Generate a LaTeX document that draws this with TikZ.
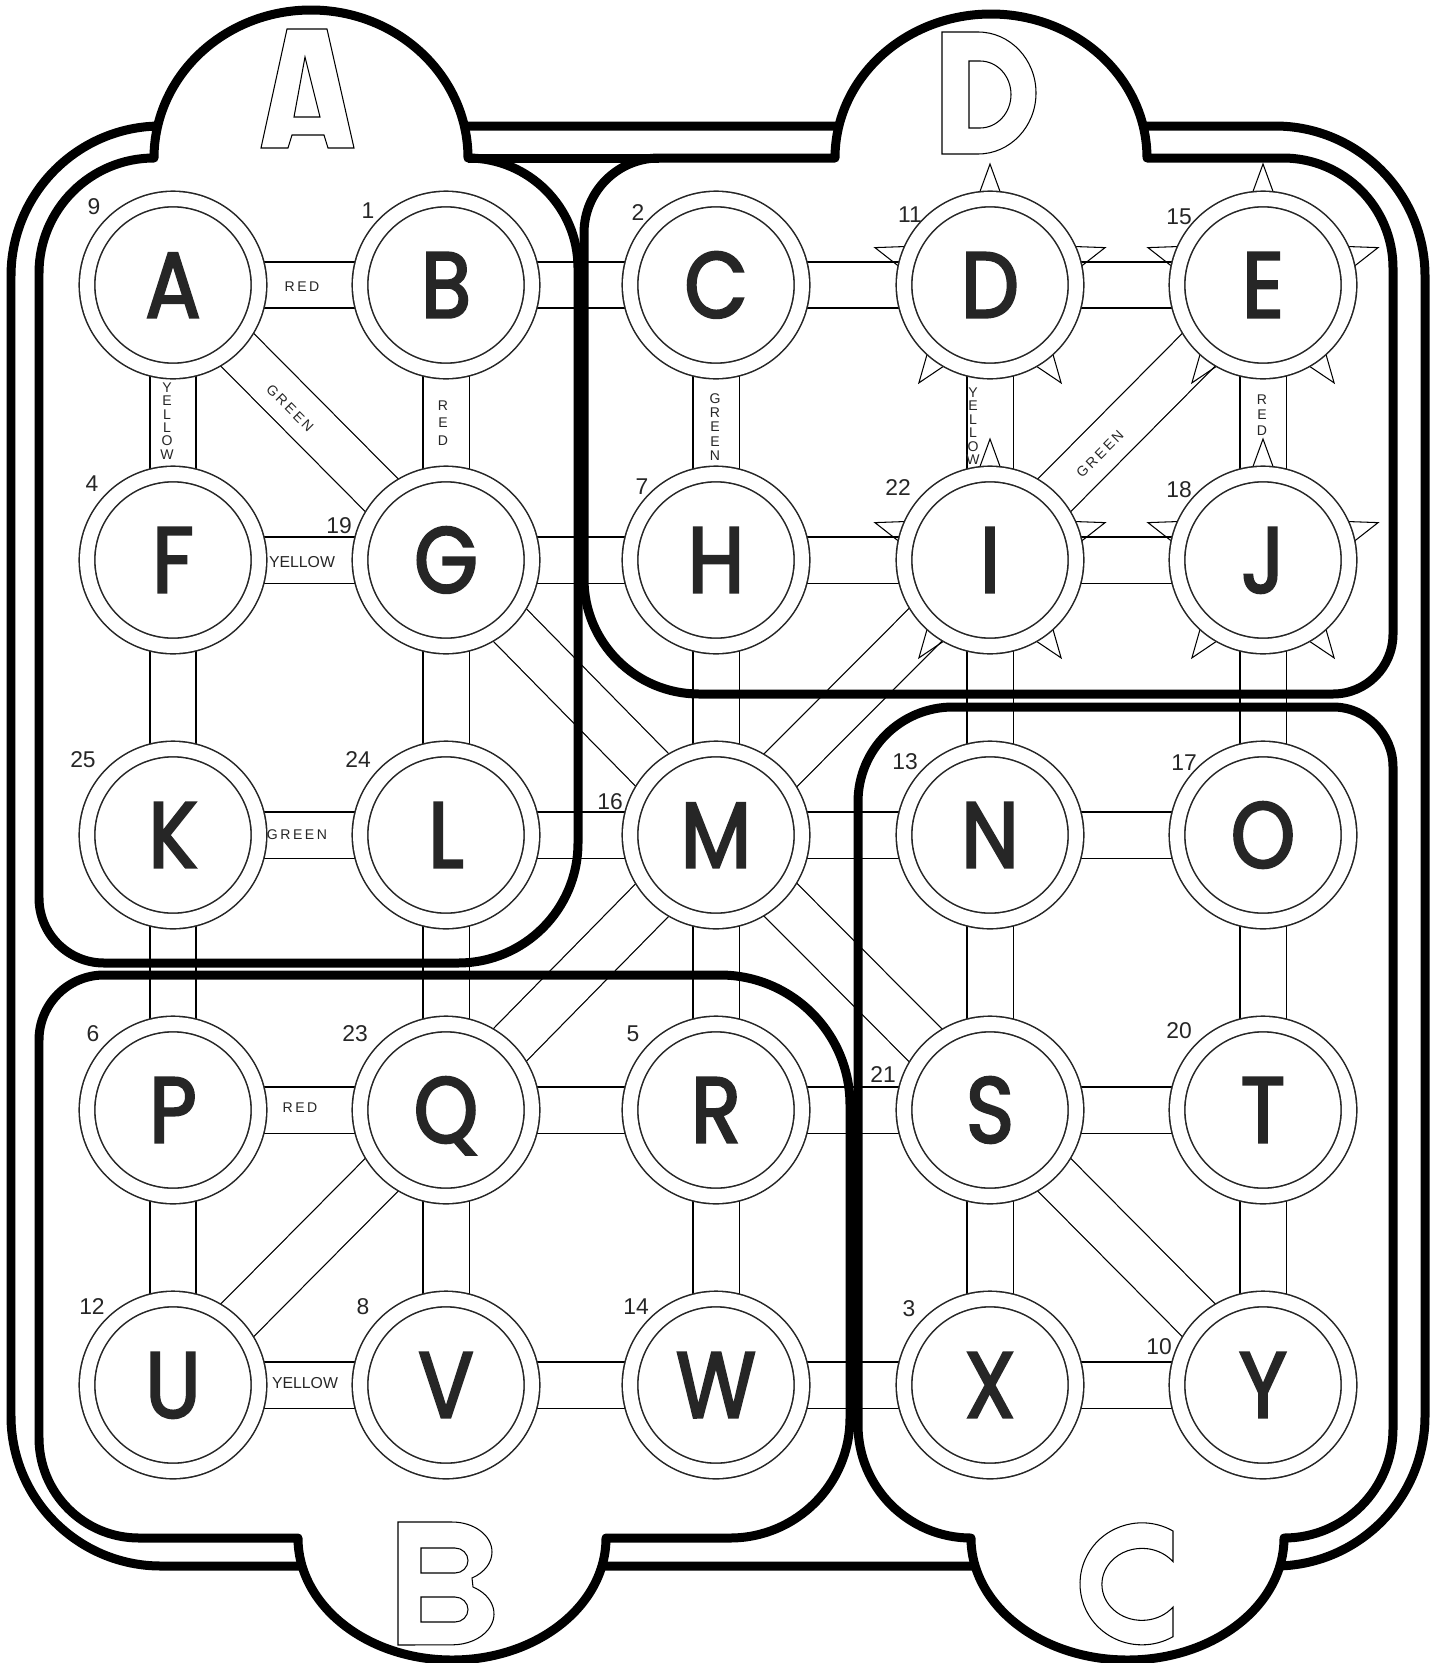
\documentclass[tikz,border=0pt]{standalone}
\usepackage{fontspec}
\setmainfont{Liberation Sans}
\newfontfamily\stnfont{Poppins}[FakeStretch=0.88,FakeBold=2.5]
\newfontfamily\tagfont{Liberation Sans}[LetterSpace=18]
\usetikzlibrary{shapes.geometric}
\pgfdeclarelayer{bg}
\pgfsetlayers{bg,main}
\tikzset{
  stn/.style={circle,draw,double,double distance=0.28cm,line width=0.9pt,fill=white,
    minimum size=3.44cm,inner sep=0pt,text height=37pt,text depth=0pt,
    font=\stnfont\fontsize{53}{53}\selectfont},
  sun/.style={star,star points=5,star point ratio=2.42,minimum size=4.84cm,inner sep=0pt,draw,line width=0.6pt},
  track/.style={double,double distance=0.9cm,line width=0.7pt},
  wall/.style={line width=0.18cm,line join=round},
  stencil/.style={line width=0.6pt},
  num/.style={font=\fontsize{13}{13}\selectfont,inner sep=0pt},
  tag/.style={font=\tagfont\fontsize{8}{8}\selectfont,inner sep=0pt},
  vtag/.style={font=\fontsize{8}{8}\selectfont,inner sep=0pt,align=center}
}

\begin{document}
\begin{tikzpicture}[x=0.02cm,y=-0.02cm,color=black!85]
  \useasboundingbox (0,0) rectangle (1442,1663);

  \node[stn] (A) at (173,285) {A};
  \node[stn] (B) at (446,285) {B};
  \node[stn] (C) at (716,285) {C};
  \node[stn] (D) at (990,285) {D};
  \node[stn] (E) at (1263,285) {E};
  \node[stn] (F) at (173,560) {F};
  \node[stn] (G) at (446,560) {G};
  \node[stn] (H) at (716,560) {H};
  \node[stn] (I) at (990,560) {I};
  \node[stn] (J) at (1263,560) {J};
  \node[stn] (K) at (173,835) {K};
  \node[stn] (L) at (446,835) {L};
  \node[stn] (M) at (716,835) {M};
  \node[stn] (N) at (990,835) {N};
  \node[stn] (O) at (1263,835) {O};
  \node[stn] (P) at (173,1110) {P};
  \node[stn] (Q) at (446,1110) {Q};
  \node[stn] (R) at (716,1110) {R};
  \node[stn] (S) at (990,1110) {S};
  \node[stn] (T) at (1263,1110) {T};
  \node[stn] (U) at (173,1385) {U};
  \node[stn] (V) at (446,1385) {V};
  \node[stn] (W) at (716,1385) {W};
  \node[stn] (X) at (990,1385) {X};
  \node[stn] (Y) at (1263,1385) {Y};

  \node[num] (n9) at (94,207) {9};
  \node[num] (n1) at (368,211) {1};
  \node[num] (n2) at (638,213) {2};
  \node[num] (n11) at (910,215) {11};
  \node[num] (n15) at (1179,217) {15};
  \node[num] (n4) at (92,484) {4};
  \node[num] (n19) at (339,526) {19};
  \node[num] (n7) at (642,487) {7};
  \node[num] (n22) at (898,488) {22};
  \node[num] (n18) at (1179,490) {18};
  \node[num] (n25) at (83,760) {25};
  \node[num] (n24) at (358,760) {24};
  \node[num] (n16) at (610,802) {16};
  \node[num] (n13) at (905,762) {13};
  \node[num] (n17) at (1184,763) {17};
  \node[num] (n6) at (93,1034) {6};
  \node[num] (n23) at (355,1034) {23};
  \node[num] (n5) at (633,1034) {5};
  \node[num] (n21) at (883,1075) {21};
  \node[num] (n20) at (1179,1031) {20};
  \node[num] (n12) at (92,1307) {12};
  \node[num] (n8) at (363,1307) {8};
  \node[num] (n14) at (636,1307) {14};
  \node[num] (n3) at (909,1309) {3};
  \node[num] (n10) at (1159,1347) {10};

  \begin{pgfonlayer}{bg}
    \draw[track] (A) -- (B) -- (C) -- (D) -- (E);
    \draw[track] (F) -- (G) -- (H) -- (I) -- (J);
    \draw[track] (K) -- (L) -- (M) -- (N) -- (O);
    \draw[track] (P) -- (Q) -- (R) -- (S) -- (T);
    \draw[track] (U) -- (V) -- (W) -- (X) -- (Y);
    \draw[track] (A) -- (F) -- (K) -- (P) -- (U);
    \draw[track] (B) -- (G) -- (L) -- (Q) -- (V);
    \draw[track] (C) -- (H) -- (M) -- (R) -- (W);
    \draw[track] (D) -- (I) -- (N) -- (S) -- (X);
    \draw[track] (E) -- (J) -- (O) -- (T) -- (Y);
    \draw[track] (A) -- (G) -- (M) -- (S) -- (Y);
    \draw[track] (E) -- (I) -- (M) -- (Q) -- (U);

    \node[tag] (tAB) at (302,287) {RED};
    \node[tag,rotate=-45] (tAG) at (290,408) {GREEN};
    \node[vtag,font=\fontsize{8}{7.6}\selectfont] (tAF) at (167,421) {Y\\E\\L\\L\\O\\W};
    \node[vtag,font=\fontsize{8}{9.9}\selectfont] (tBG) at (443,423) {R\\E\\D};
    \node[tag,font=\fontsize{9}{9}\selectfont] (tFG) at (302,562) {YELLOW};
    \node[vtag,font=\fontsize{8}{8.1}\selectfont] (tCH) at (715,427) {G\\R\\E\\E\\N};
    \node[vtag,font=\fontsize{8}{7.7}\selectfont] (tDI) at (973,426) {Y\\E\\L\\L\\O\\W};
    \node[vtag,font=\fontsize{8}{8.8}\selectfont] (tEJ) at (1262,415) {R\\E\\D};
    \node[tag,rotate=45] (tEI) at (1100,454) {GREEN};
    \node[tag] (tKL) at (297,835) {GREEN};
    \node[tag] (tPQ) at (300,1108) {RED};
    \node[tag,font=\fontsize{9}{9}\selectfont] (tUV) at (305,1383) {YELLOW};

    \node[sun] (sD) at (D) {};
    \node[sun] (sE) at (E) {};
    \node[sun] (sI) at (I) {};
    \node[sun] (sJ) at (J) {};

    \draw[wall,rounded corners=3cm] (11,126) rectangle (1425,1566);

    \fill[white] (154,158) arc[start angle=180,end angle=360,x radius=157,y radius=148] -- cycle;
    \fill[white] (835,158) arc[start angle=180,end angle=360,x radius=156,y radius=144] -- cycle;
    \fill[white] (606,1538) arc[start angle=0,end angle=180,x radius=154,y radius=122] -- cycle;
    \fill[white] (971,1538) arc[start angle=180,end angle=0,x radius=156.5,y radius=122] -- cycle;

    \draw[wall] (39,898) -- (39,273) arc[start angle=180,end angle=270,radius=115]
      arc[start angle=180,end angle=360,x radius=157,y radius=148]
      arc[start angle=270,end angle=360,radius=110] -- (578,843)
      arc[start angle=0,end angle=90,radius=120] -- (104,963)
      arc[start angle=90,end angle=180,radius=65] -- cycle;
    \draw[wall] (584,579) -- (584,233) arc[start angle=180,end angle=270,radius=75] -- (835,158)
      arc[start angle=180,end angle=360,x radius=156,y radius=144] -- (1283,158)
      arc[start angle=270,end angle=360,radius=110] -- (1393,634)
      arc[start angle=0,end angle=90,radius=60] -- (699,694)
      arc[start angle=90,end angle=180,radius=115] -- cycle;
    \draw[wall] (468,158) -- (659,158);
    \draw[wall] (858,1425) arc[start angle=180,end angle=90,radius=113]
      arc[start angle=180,end angle=0,x radius=156.5,y radius=122]
      arc[start angle=90,end angle=0,radius=109] -- (1393,767)
      arc[start angle=0,end angle=-90,radius=60] -- (953,707)
      arc[start angle=270,end angle=180,radius=95] -- cycle;
    \draw[wall] (39,1438) -- (39,1040) arc[start angle=180,end angle=270,radius=65] -- (720,975)
      arc[start angle=270,end angle=360,radius=130] -- (850,1418)
      arc[start angle=0,end angle=90,radius=120] -- (606,1538)
      arc[start angle=0,end angle=180,x radius=154,y radius=122] -- (139,1538)
      arc[start angle=90,end angle=180,radius=100] -- cycle;

    \draw[stencil] (261,148) -- (287,29) -- (327,29) -- (354,148) -- (328,148) -- (324,135)
      -- (292,135) -- (288,148) -- cycle (305,57) -- (294,117) -- (320,117) -- cycle;
    \draw[stencil] (942,32) -- (978,32) arc[start angle=-90,end angle=90,x radius=58,y radius=61]
      -- (942,154) -- cycle
      (969,61) -- (980,61) arc[start angle=-90,end angle=90,x radius=31,y radius=33.5] -- (969,128) -- cycle;
    \draw[stencil] (398,1522) -- (452,1522) arc[start angle=-90,end angle=60,x radius=40,y radius=30]
      -- (473,1587) arc[start angle=-60,end angle=90,x radius=42,y radius=31] -- (398,1645) -- cycle
      (421,1548) -- (455,1548) arc[start angle=-90,end angle=90,x radius=13,y radius=12.5] -- (421,1573) -- cycle
      (421,1597) -- (455,1597) arc[start angle=-90,end angle=90,x radius=13,y radius=12.5] -- (421,1622) -- cycle;
    \draw[stencil] (1173,1531) arc[start angle=-60,end angle=-300,x radius=62,y radius=61]
      -- (1173,1607) arc[start angle=39,end angle=321,x radius=40,y radius=36] -- cycle;
  \end{pgfonlayer}
\end{tikzpicture}
\end{document}
